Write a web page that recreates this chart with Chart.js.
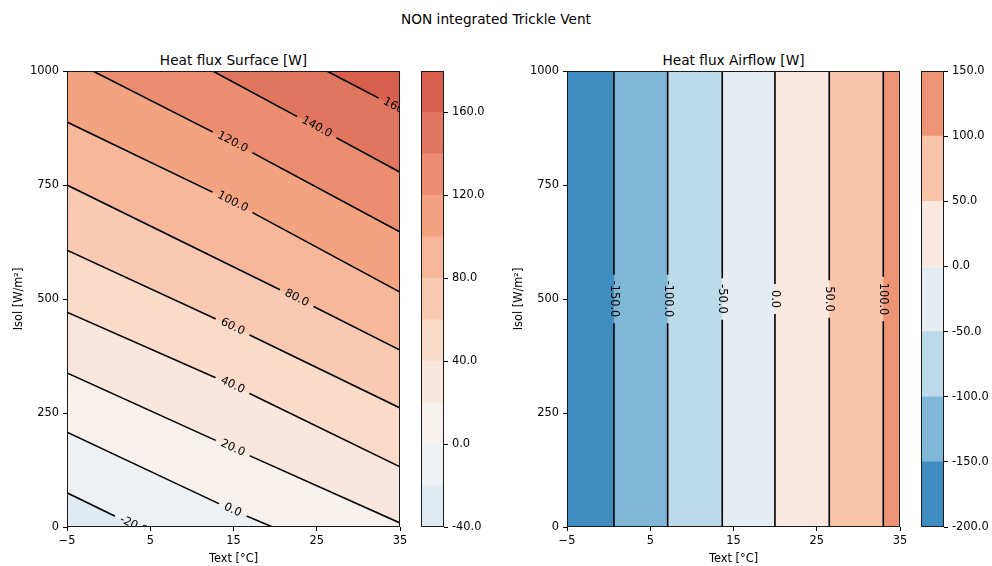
<!DOCTYPE html>
<html>
<head>
<meta charset="utf-8">
<script src="https://cdn.jsdelivr.net/npm/chart.js@4.4.0/dist/chart.umd.min.js"></script>
<style>
  body { margin: 0; background: #fff; font-family: "DejaVu Sans", sans-serif; }
  #wrap { position: relative; width: 992px; height: 566px; overflow: hidden; }
  canvas { position: absolute; top: 0; }
  .ttl { position: absolute; transform: translate(-50%, -50%); white-space: nowrap; color: #000; font-size: 13.7px; }
</style>
</head>
<body>
<div id="wrap">
  <div class="ttl" style="left:496px;top:19px">NON integrated Trickle Vent</div>
  <div class="ttl" style="left:233.5px;top:60px">Heat flux Surface [W]</div>
  <div class="ttl" style="left:733.5px;top:60px">Heat flux Airflow [W]</div>
  <canvas id="surf" width="420" height="566" style="left:0px"></canvas>
  <canvas id="surfBar" width="90" height="566" style="left:410px"></canvas>
  <canvas id="air" width="420" height="566" style="left:500px"></canvas>
  <canvas id="airBar" width="82" height="566" style="left:910px"></canvas>
</div>
<script>
// ================= DATA =================
const xTicks = [-5, 5, 15, 25, 35];
const yTicks = [0, 250, 500, 750, 1000];

// Heat flux Surface : contour lines [Text, Isol]
const surfLevels = [-20, 0, 20, 40, 60, 80, 100, 120, 140, 160];
const surfLineFrom = [[-5, 75], [-5, 208], [-5, 338], [-5, 471], [-5, 607], [-5, 750], [-5, 888], [-1.9, 1000], [12.5, 1000], [26.2, 1000]];
const surfLineTo = [[3.5, 0], [19.7, 0], [35, 9], [35, 132], [35, 261], [35, 388], [35, 515], [35, 647], [35, 778], [35, 914]];
const surfLabelAt = [[3.0, 4], [14.9, 37], [14.9, 173], [14.9, 311], [14.9, 439], [22.6, 502], [14.9, 713], [14.9, 844], [25.0, 877], [34.8, 918]];
const surfBands = [-40, -20, 0, 20, 40, 60, 80, 100, 120, 140, 160, 180];
const surfColors = ["#e1e9f1", "#edf1f4", "#f6f1ed", "#f9e6dd", "#fadbc9", "#f8cab2",
                    "#f6b79a", "#f3a380", "#ea8d70", "#e07660", "#d6604d"];
const surfBarTicks = [-40, 0, 40, 80, 120, 160];

// Heat flux Airflow : vertical contour lines
const airLevels = [-150, -100, -50, 0, 50, 100];
const airLineT = [0.64, 7.09, 13.65, 19.98, 26.5, 32.99];
const airLabelIsol = 500;
const airBands = [-200, -150, -100, -50, 0, 50, 100, 150];
const airColors = ["#3f8dc0", "#7fb8d7", "#bcdaea", "#e5edf3", "#fbe8df", "#f8c5aa", "#ec9474"];
const airBarTicks = [-200, -150, -100, -50, 0, 50, 100, 150];

// ================= HELPERS =================
const X0 = -5, X1 = 35, Y0 = 0, Y1 = 1000;
const FONT = { family: "DejaVu Sans", size: 11.4 };

// position on the plot border, counter-clockwise from bottom-left corner
function perim(p) {
  const e = 1e-6;
  if (Math.abs(p[1] - Y0) < e) return (p[0] - X0) / (X1 - X0);
  if (Math.abs(p[0] - X1) < e) return 1 + (p[1] - Y0) / (Y1 - Y0);
  if (Math.abs(p[1] - Y1) < e) return 2 + (X1 - p[0]) / (X1 - X0);
  return 3 + (Y1 - p[1]) / (Y1 - Y0);
}
const corners = [[X0, Y0], [X1, Y0], [X1, Y1], [X0, Y1]];

// region on the high side of a contour polyline
function regionAbove(line) {
  const a = line[0], b = line[line.length - 1];
  let s = perim(b), t = perim(a);
  if (t <= s) t += 4;
  const poly = line.slice();
  for (let k = Math.floor(s) + 1; k < t; k++) poly.push(corners[k % 4]);
  poly.push(a);
  return poly;
}

const inside = p => p[0] > X0 && p[0] < X1 && p[1] > Y0 && p[1] < Y1;

function buildDatasets(lines, labels, labelPos, colors) {
  const sets = [];
  const base = corners.concat([corners[0]]);
  sets.push({ data: base.map(p => ({ x: p[0], y: p[1] })), backgroundColor: colors[0],
              borderWidth: 0, pointRadius: 0, fill: "shape", order: 100 });
  lines.forEach((ln, i) => {
    sets.push({ data: regionAbove(ln).map(p => ({ x: p[0], y: p[1] })), backgroundColor: colors[i + 1],
                borderWidth: 0, pointRadius: 0, fill: "shape", order: 90 - i });
  });
  lines.forEach((ln, i) => {
    sets.push({ data: ln.map(p => ({ x: p[0], y: p[1] })), borderColor: "#000", borderWidth: 1.6,
                pointRadius: 0, fill: false, order: 0,
                contour: { text: labels[i], at: labelPos[i], a: ln[0], b: ln[ln.length - 1] } });
  });
  return sets;
}

function labelGeom(chart, c) {
  const xs = chart.scales.x, ys = chart.scales.y;
  const ax = xs.getPixelForValue(c.a[0]), ay = ys.getPixelForValue(c.a[1]);
  const bx = xs.getPixelForValue(c.b[0]), by = ys.getPixelForValue(c.b[1]);
  let ang = Math.atan2(by - ay, bx - ax);
  if (ang > Math.PI / 2 + 1e-6) ang -= Math.PI;
  if (ang < -Math.PI / 2 + 1e-6) ang += Math.PI;
  const ctx = chart.ctx;
  ctx.font = FONT.size + "px " + FONT.family;
  const w = ctx.measureText(c.text).width;
  return { x: xs.getPixelForValue(c.at[0]), y: ys.getPixelForValue(c.at[1]), ang, w };
}

const contourPlugin = {
  id: "contourLabels",
  beforeDatasetDraw(chart, args) {
    const ds = chart.data.datasets[args.index];
    if (!ds.contour) return;
    const g = labelGeom(chart, ds.contour);
    const ctx = chart.ctx;
    const hw = g.w / 2 + 6, hh = 8;
    const cs = Math.cos(g.ang), sn = Math.sin(g.ang);
    const pt = (u, v) => [g.x + u * cs - v * sn, g.y + u * sn + v * cs];
    ctx.save();
    ctx.beginPath();
    ctx.rect(0, 0, chart.width, chart.height);
    const q = [pt(-hw, -hh), pt(hw, -hh), pt(hw, hh), pt(-hw, hh)];
    ctx.moveTo(q[0][0], q[0][1]);
    for (let i = 1; i < 4; i++) ctx.lineTo(q[i][0], q[i][1]);
    ctx.closePath();
    ctx.clip("evenodd");
  },
  afterDatasetDraw(chart, args) {
    const ds = chart.data.datasets[args.index];
    if (ds.contour) chart.ctx.restore();
  },
  afterDatasetsDraw(chart) {
    const ctx = chart.ctx, a = chart.chartArea;
    ctx.save();
    ctx.beginPath();
    ctx.rect(a.left, a.top, a.right - a.left, a.bottom - a.top);
    ctx.clip();
    chart.data.datasets.forEach(ds => {
      if (!ds.contour) return;
      const g = labelGeom(chart, ds.contour);
      ctx.save();
      ctx.translate(g.x, g.y);
      ctx.rotate(g.ang);
      ctx.fillStyle = "#000";
      ctx.textAlign = "center";
      ctx.textBaseline = "middle";
      ctx.fillText(ds.contour.text, 0, 0);
      ctx.restore();
    });
    ctx.restore();
  }
};

const framePlugin = {
  id: "frame",
  afterDraw(chart) {
    const ctx = chart.ctx, a = chart.chartArea;
    ctx.save();
    ctx.strokeStyle = "#1a1a1a";
    ctx.lineWidth = 1;
    ctx.strokeRect(a.left + 0.5, a.top + 0.5, a.right - a.left - 1, a.bottom - a.top - 1);
    ctx.restore();
  }
};

function contourChart(id, datasets, padRight) {
  return new Chart(document.getElementById(id), {
    type: "line",
    data: { datasets },
    options: {
      responsive: false,
      animation: false,
      events: [],
      layout: { padding: { left: 0, top: 71, right: padRight, bottom: 0 } },
      plugins: { legend: { display: false }, tooltip: { enabled: false } },
      scales: {
        x: {
          type: "linear", min: X0, max: X1,
          afterBuildTicks: s => { s.ticks = xTicks.map(v => ({ value: v })); },
          afterFit: s => { s.height = 39; },
          ticks: { color: "#000", font: FONT, padding: 3, maxRotation: 0,
                   callback: v => String(v).replace("-", "\u2212") },
          grid: { drawOnChartArea: false, color: "#000", tickLength: 4 },
          border: { display: false },
          title: { display: true, text: "Text [°C]", color: "#000", font: FONT, padding: { top: 4, bottom: 0 } }
        },
        y: {
          type: "linear", min: Y0, max: Y1,
          afterBuildTicks: s => { s.ticks = yTicks.map(v => ({ value: v })); },
          afterFit: s => { s.width = 67; },
          ticks: { color: "#000", font: FONT, padding: 4, callback: v => String(v) },
          grid: { drawOnChartArea: false, color: "#000", tickLength: 4 },
          border: { display: false },
          title: { display: true, text: "Isol [W/m²]", color: "#000", font: FONT, padding: { top: 12, bottom: 0 } }
        }
      }
    },
    plugins: [contourPlugin, framePlugin]
  });
}

function colorBar(id, bands, colors, ticks, axisWidth) {
  return new Chart(document.getElementById(id), {
    type: "bar",
    data: {
      labels: [""],
      datasets: colors.map((c, i) => ({
        data: [[bands[i], bands[i + 1]]],
        backgroundColor: c, borderWidth: 0,
        barPercentage: 1, categoryPercentage: 1
      }))
    },
    options: {
      responsive: false,
      animation: false,
      events: [],
      layout: { padding: { left: 11, top: 71, right: 0, bottom: 39 } },
      plugins: { legend: { display: false }, tooltip: { enabled: false } },
      scales: {
        x: { display: false, stacked: true },
        y: {
          position: "right", stacked: false,
          min: bands[0], max: bands[bands.length - 1],
          afterBuildTicks: s => { s.ticks = ticks.map(v => ({ value: v })); },
          afterFit: s => { s.width = axisWidth; },
          ticks: { color: "#000", font: FONT, padding: 4, callback: v => v.toFixed(1) },
          grid: { drawOnChartArea: false, color: "#000", tickLength: 4 },
          border: { display: false }
        }
      }
    },
    plugins: [framePlugin]
  });
}

// ================= HEAT FLUX SURFACE =================
const surfLines = surfLevels.map((lv, i) => {
  const pts = [surfLineFrom[i]];
  if (inside(surfLabelAt[i])) pts.push(surfLabelAt[i]);
  pts.push(surfLineTo[i]);
  return pts;
});
window.surfChart = contourChart("surf",
  buildDatasets(surfLines, surfLevels.map(v => v.toFixed(1)), surfLabelAt, surfColors), 20);
window.surfBarChart = colorBar("surfBar", surfBands, surfColors, surfBarTicks, 56);

// ================= HEAT FLUX AIRFLOW =================
const airLines = airLineT.map(t => [[t, Y1], [t, Y0]]);
window.airChart = contourChart("air",
  buildDatasets(airLines, airLevels.map(v => v.toFixed(1)), airLineT.map(t => [t, airLabelIsol]), airColors), 20);
window.airBarChart = colorBar("airBar", airBands, airColors, airBarTicks, 48);
</script>
</body>
</html>
